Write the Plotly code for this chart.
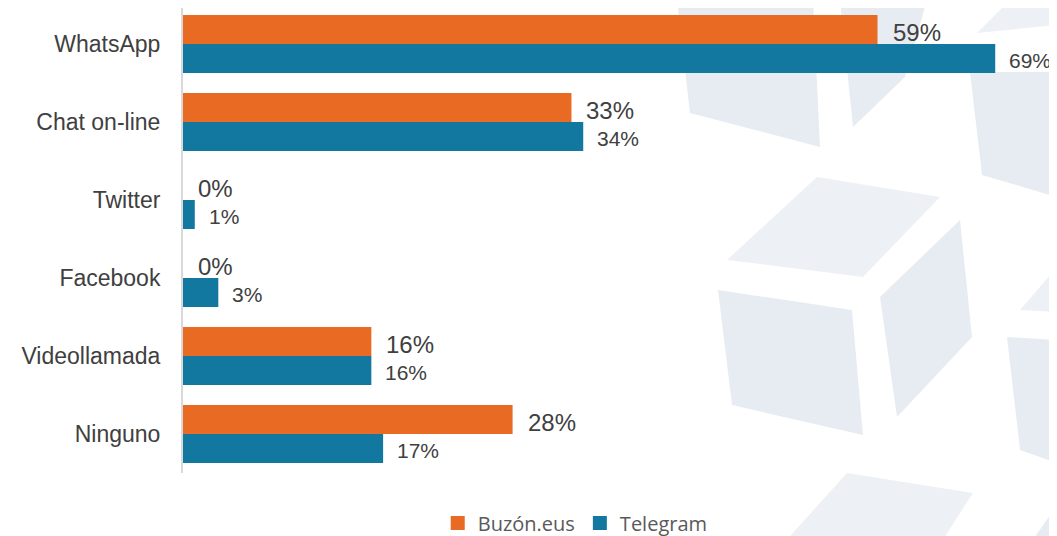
import plotly.graph_objects as go

categories = ["WhatsApp", "Chat on-line", "Twitter", "Facebook", "Videollamada", "Ninguno"]
buzon = [59, 33, 0, 0, 16, 28]
telegram = [69, 34, 1, 3, 16, 17]
series_names = ["Buzón.eus", "Telegram"]

ORANGE = "#E96A23"
BLUE = "#13789F"
TXT = "#404040"

OFF = 8  # page body margin
W, H = 1049, 536
ML, MR, MT, MB = 175, 50, 0, 71
PW, PH = W - ML - MR, H - MT - MB

fig = go.Figure()
fig.add_trace(go.Bar(y=categories, x=buzon, orientation="h", name=series_names[0],
                     marker=dict(color=ORANGE, line=dict(width=0)), showlegend=False))
fig.add_trace(go.Bar(y=categories, x=telegram, orientation="h", name=series_names[1],
                     marker=dict(color=BLUE, line=dict(width=0)), showlegend=False))
# legend entries with square swatches
for nm, col in zip(series_names, [ORANGE, BLUE]):
    fig.add_trace(go.Scatter(x=[None], y=[None], mode="markers", name=nm,
                             marker=dict(symbol="square", size=14, color=col)))

annotations = []
for c, v in zip(categories, buzon):
    annotations.append(dict(x=v, y=c, xref="x", yref="y", text=f"{v}%", showarrow=False,
                            xanchor="left", yanchor="middle", xshift=13, yshift=12,
                            font=dict(family="Liberation Sans, Arial", size=24, color=TXT)))
for c, v in zip(categories, telegram):
    annotations.append(dict(x=v, y=c, xref="x", yref="y", text=f"{v}%", showarrow=False,
                            xanchor="left", yanchor="middle", xshift=12, yshift=-16,
                            font=dict(family="Liberation Sans, Arial", size=21, color=TXT)))

# faint decorative watermark (cube shapes), page pixel coords -> paper coords
def px2paper(pts):
    return [((x - OFF - ML) / PW, (H - MB - (y - OFF)) / PH) for x, y in pts]

SIDE = "#E7EBF2"
TOP = "#EDF0F5"
wm_polys = [
    ([(677, 0), (813, 0), (820, 147), (690, 113)], SIDE),
    ([(840, 0), (927, 0), (905, 77), (853, 127)], SIDE),
    ([(970, 72), (1057, 72), (1057, 197), (982, 175)], SIDE),
    ([(977, 33), (1010, 0), (1057, 0), (1057, 25)], TOP),
    ([(727, 260), (817, 177), (940, 197), (863, 277)], TOP),
    ([(718, 290), (852, 310), (863, 435), (732, 405)], SIDE),
    ([(880, 297), (960, 220), (972, 337), (897, 417)], SIDE),
    ([(1007, 337), (1057, 340), (1057, 463), (1020, 450)], SIDE),
    ([(1020, 310), (1057, 267), (1057, 312)], TOP),
    ([(783, 544), (847, 473), (973, 493), (940, 544)], TOP),
    ([(1030, 544), (1057, 505), (1057, 544)], SIDE),
]
shapes = []
for poly, col in wm_polys:
    pp = px2paper(poly)
    path = "M " + " L ".join(f"{x:.4f},{y:.4f}" for x, y in pp) + " Z"
    shapes.append(dict(type="path", path=path, xref="paper", yref="paper",
                       fillcolor=col, line=dict(width=0), layer="below"))

fig.update_layout(
    width=W, height=H,
    margin=dict(l=ML, r=MR, t=MT, b=MB),
    paper_bgcolor="white", plot_bgcolor="rgba(0,0,0,0)",
    barmode="group", bargap=0.256, bargroupgap=0,
    showlegend=True,
    legend=dict(orientation="h", x=0.476, xanchor="center", y=-0.1075, yanchor="middle",
                font=dict(family="Open Sans", size=20, color="#595959"),
                itemwidth=30, bgcolor="rgba(0,0,0,0)"),
    xaxis=dict(range=[0, 70], visible=False, showgrid=False, zeroline=False),
    yaxis=dict(range=[5.5, -0.4615], showline=True, linecolor="#D9D9D9", linewidth=2,
               showgrid=False, zeroline=False, ticks="", ticklabelstandoff=16,
               tickfont=dict(family="Liberation Sans, Arial", size=23, color=TXT)),
    annotations=annotations,
    shapes=shapes,
)

fig.write_html("out.html")
